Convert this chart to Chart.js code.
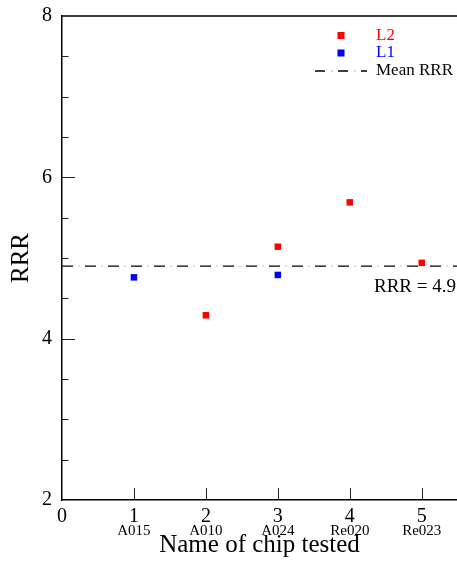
<!DOCTYPE html>
<html><head><meta charset="utf-8">
<script src="https://cdn.jsdelivr.net/npm/chart.js@4"></script>
<style>html,body{margin:0;padding:0;background:#fff;overflow:hidden}canvas{display:block}</style>
</head><body>
<canvas id="c" width="457" height="561"></canvas>
<script>
// ---- data ----
const xTickValues = [0, 1, 2, 3, 4, 5];
const chipPositions = [1, 2, 3, 4, 5];
const chipNames = ['A015', 'A010', 'A024', 'Re020', 'Re023'];
const l2X = [2, 3, 4, 5];
const l2Y = [4.29, 5.14, 5.69, 4.94];
const l1X = [1, 3];
const l1Y = [4.76, 4.79];
const meanRRR = 4.9;
const yTickValues = [2, 4, 6, 8];
const yMinorStep = 0.5;
const seriesLabels = ['L2', 'L1', 'Mean RRR'];
const xAxisTitle = 'Name of chip tested';
const yAxisTitle = 'RRR';

// ---- config ----
const X_MIN = 0, X_MAX = 5.49, Y_MIN = 2, Y_MAX = 8;
const SERIF = '"Liberation Serif", "Times New Roman", serif';
const RED = '#ff0000', BLUE = '#0000ff';

const toPts = (xs, ys) => xs.map((x, i) => ({x, y: ys[i]}));
const noPad = s => { s.paddingLeft = 0; s.paddingRight = 0; s.paddingTop = 0; s.paddingBottom = 0; };

const decor = {
  id: 'decor',
  afterDatasetsDraw(chart) {
    const {ctx, chartArea: a, scales} = chart;
    const xs = scales.x, ys = scales.y;
    ctx.save();
    ctx.strokeStyle = '#000';
    ctx.lineWidth = 1.5;
    // top frame line
    ctx.beginPath();
    ctx.moveTo(a.left, a.top); ctx.lineTo(a.right, a.top);
    ctx.stroke();
    // y inward ticks (major + minor)
    ctx.lineWidth = 1;
    ctx.strokeStyle = '#222';
    for (let v = Y_MIN + yMinorStep; v < Y_MAX - 1e-9; v += yMinorStep) {
      const py = Math.round(ys.getPixelForValue(v)) + 0.5;
      const len = yTickValues.some(t => Math.abs(t - v) < 1e-9) ? 13 : 6.5;
      ctx.beginPath(); ctx.moveTo(a.left, py); ctx.lineTo(a.left + len, py); ctx.stroke();
    }
    // x inward ticks
    chipPositions.forEach(v => {
      const px = Math.round(xs.getPixelForValue(v)) + 0.5;
      ctx.beginPath(); ctx.moveTo(px, a.bottom); ctx.lineTo(px, a.bottom - 12); ctx.stroke();
    });
    // annotation
    const my = ys.getPixelForValue(meanRRR);
    ctx.fillStyle = '#000';
    ctx.font = '19px ' + SERIF;
    ctx.textAlign = 'right';
    ctx.textBaseline = 'middle';
    ctx.fillText(yAxisTitle + ' = ' + meanRRR, a.right - 1, my + 21);
    // legend
    const ds = chart.data.datasets.filter(d => !d.legendHidden);
    const mx = 341, tx = 376, rows = [35.5, 53, 71];
    ctx.font = '17px ' + SERIF;
    ctx.textAlign = 'left';
    ds.forEach((d, i) => {
      const y = rows[i];
      if (d.type === 'line') {
        ctx.strokeStyle = '#000'; ctx.lineWidth = 1.3;
        ctx.setLineDash([10, 13]);
        ctx.beginPath(); ctx.moveTo(315, y); ctx.lineTo(367, y); ctx.stroke();
        ctx.strokeStyle = '#ccc'; ctx.setLineDash([2, 21]); ctx.lineDashOffset = 7;
        ctx.beginPath(); ctx.moveTo(315, y); ctx.lineTo(367, y); ctx.stroke();
        ctx.setLineDash([]); ctx.lineDashOffset = 0;
        ctx.fillStyle = '#000';
      } else {
        ctx.fillStyle = d.backgroundColor;
        ctx.fillRect(mx - 3.5, y - 3.5, 7, 7);
      }
      ctx.fillText(d.label, tx, y);
    });
    ctx.restore();
  }
};

new Chart(document.getElementById('c'), {
  type: 'scatter',
  data: {
    datasets: [
      { label: seriesLabels[0], data: toPts(l2X, l2Y), backgroundColor: RED, borderWidth: 0,
        pointStyle: 'rect', pointRadius: 4.6 },
      { label: seriesLabels[1], data: toPts(l1X, l1Y), backgroundColor: BLUE, borderWidth: 0,
        pointStyle: 'rect', pointRadius: 4.6 },
      { type: 'line', label: seriesLabels[2], data: [{x: X_MIN, y: meanRRR}, {x: X_MAX, y: meanRRR}],
        borderColor: '#000', borderWidth: 1.3, borderDash: [11, 12], pointRadius: 0, showLine: true },
      { type: 'line', label: '', data: [{x: X_MIN, y: meanRRR}, {x: X_MAX, y: meanRRR}],
        borderColor: '#cccccc', borderWidth: 1.3, borderDash: [2, 21], borderDashOffset: 7,
        pointRadius: 0, showLine: true, legendHidden: true }
    ]
  },
  options: {
    responsive: false,
    animation: false,
    devicePixelRatio: 1,
    layout: { autoPadding: false, padding: { top: 16, right: 0, left: 0, bottom: 0 } },
    plugins: { legend: { display: false }, tooltip: { enabled: false } },
    scales: {
      x: {
        type: 'linear', min: X_MIN, max: X_MAX, position: 'bottom', weight: 0,
        afterBuildTicks: s => { s.ticks = xTickValues.map(v => ({value: v})); },
        afterFit: s => { s.height = 22; noPad(s); },
        grid: { display: true, drawOnChartArea: false, drawTicks: false },
        border: { display: true, color: '#000', width: 1.5 },
        ticks: { color: '#000', font: { family: SERIF, size: 20, lineHeight: 1 }, padding: 7, maxRotation: 0 }
      },
      x2: {
        type: 'linear', min: X_MIN, max: X_MAX, position: 'bottom', weight: 1,
        afterBuildTicks: s => { s.ticks = chipPositions.map(v => ({value: v})); },
        afterFit: s => { s.height = 39; noPad(s); },
        grid: { display: false, drawTicks: false },
        border: { display: false },
        ticks: { color: '#000', font: { family: SERIF, size: 15, lineHeight: 1 }, padding: 2, maxRotation: 0,
                 callback: v => chipNames[chipPositions.indexOf(v)] },
        title: { display: true, text: xAxisTitle, color: '#000',
                 font: { family: SERIF, size: 25, lineHeight: 1.1 }, padding: { top: 0, bottom: 2 } }
      },
      y: {
        type: 'linear', min: Y_MIN, max: Y_MAX, position: 'left',
        afterBuildTicks: s => { s.ticks = yTickValues.map(v => ({value: v})); },
        afterFit: s => { s.width = 62; noPad(s); },
        grid: { display: true, drawOnChartArea: false, drawTicks: false },
        border: { display: true, color: '#000', width: 1.5 },
        ticks: { color: '#000', font: { family: SERIF, size: 20 }, padding: 10 },
        title: { display: true, text: yAxisTitle, color: '#000',
                 font: { family: SERIF, size: 25, lineHeight: 1.2 }, padding: { top: 6, bottom: 0 } }
      }
    }
  },
  plugins: [decor]
});
</script>
</body></html>
